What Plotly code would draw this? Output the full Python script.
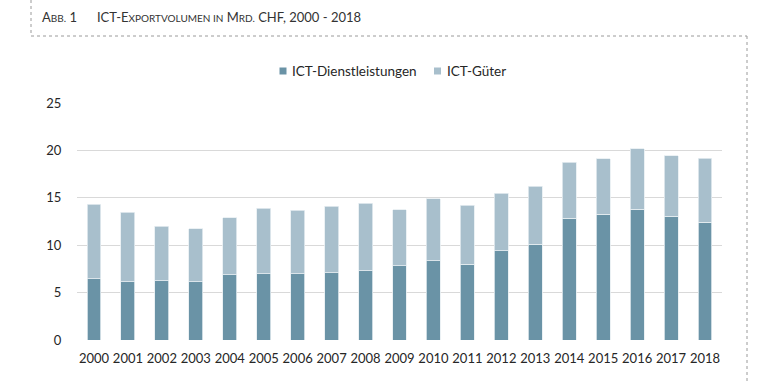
import plotly.graph_objects as go

years = [str(y) for y in range(2000, 2019)]
dienst = [6.44, 6.13, 6.27, 6.13, 6.90, 7.01, 7.01, 7.11, 7.32, 7.85, 8.38, 7.99, 9.44, 10.11, 12.82, 13.24, 13.77, 13.03, 12.43]
total = [14.33, 13.49, 12.00, 11.76, 12.89, 13.91, 13.70, 14.12, 14.40, 13.73, 14.89, 14.19, 15.49, 16.20, 18.77, 19.12, 20.18, 19.44, 19.19]
gueter = [round(t - d, 2) for t, d in zip(total, dienst)]
y_ticks = [0, 5, 10, 15, 20, 25]
series_names = ["ICT-Dienstleistungen", "ICT-Güter"]

W, H = 773, 383
L, R, T, B = 77, 51, 103, 43
pw, ph = W - L - R, H - T - B

def px(x):
    return (x - L) / pw

def py(y):
    return (H - B - y) / ph

font = "Lato, 'Open Sans', sans-serif"
dark = "#6A93A6"
light = "#A8BFCC"

fig = go.Figure()
fig.add_bar(x=years, y=dienst, name=series_names[0],
            marker=dict(color=dark, line=dict(color="#E6EDF1", width=0.8)))
fig.add_bar(x=years, y=gueter, name=series_names[1],
            marker=dict(color=light, line=dict(color="#E6EDF1", width=0.8)))

dot = dict(color="#9A9A9A", width=1, dash="dot")
shapes = [
    dict(type="line", xref="paper", yref="paper", x0=px(31), x1=px(31), y0=py(0), y1=py(36), line=dot),
    dict(type="line", xref="paper", yref="paper", x0=px(31), x1=px(747), y0=py(36), y1=py(36), line=dot),
    dict(type="line", xref="paper", yref="paper", x0=px(747), x1=px(747), y0=py(36), y1=py(383), line=dot),
    # legend swatches
    dict(type="rect", xref="paper", yref="paper", x0=px(279.5), x1=px(286.5), y0=py(67.5), y1=py(74.5),
         fillcolor=dark, line=dict(width=0)),
    dict(type="rect", xref="paper", yref="paper", x0=px(434), x1=px(441), y0=py(67.5), y1=py(74.5),
         fillcolor=light, line=dict(width=0)),
]

sc = "<span style='font-size:10px'>"
title = ("A" + sc + "BB.</span> 1&nbsp;&nbsp;&nbsp;&nbsp;&nbsp;&nbsp;"
         "ICT-E" + sc + "XPORTVOLUMEN IN</span> M" + sc + "RD.</span> CHF, 2000 - 2018")

annotations = [
    dict(text=title, xref="paper", yref="paper", x=px(40), y=py(17),
         xanchor="left", yanchor="middle", showarrow=False,
         font=dict(size=13, color="#333333")),
    dict(text=series_names[0], xref="paper", yref="paper", x=px(290), y=py(71),
         xanchor="left", yanchor="middle", showarrow=False,
         font=dict(size=13.5, color="#262626")),
    dict(text=series_names[1], xref="paper", yref="paper", x=px(445), y=py(71),
         xanchor="left", yanchor="middle", showarrow=False,
         font=dict(size=13.5, color="#262626")),
]

fig.update_layout(
    width=W, height=H,
    margin=dict(l=L, r=R, t=T, b=B, autoexpand=False),
    paper_bgcolor="white", plot_bgcolor="white",
    barmode="stack", bargap=0.59,
    font=dict(family=font, size=13, color="#262626"),
    shapes=shapes,
    showlegend=False,
    annotations=annotations,
    xaxis=dict(showgrid=False, showline=False, zeroline=False, ticks="outside",
               ticklen=6, tickcolor="rgba(0,0,0,0)", tickfont=dict(size=13)),
    yaxis=dict(range=[0, 25], tickvals=y_ticks, showgrid=True, gridcolor="#D9D9D9",
               gridwidth=1.3, zeroline=False, showline=False, ticks="outside",
               ticklen=12, tickcolor="rgba(0,0,0,0)", tickfont=dict(size=13)),
)

fig.write_html("out.html", config={"displayModeBar": False},
               post_script="document.body.style.margin='0';document.body.style.padding='0';document.body.style.overflow='hidden';")
